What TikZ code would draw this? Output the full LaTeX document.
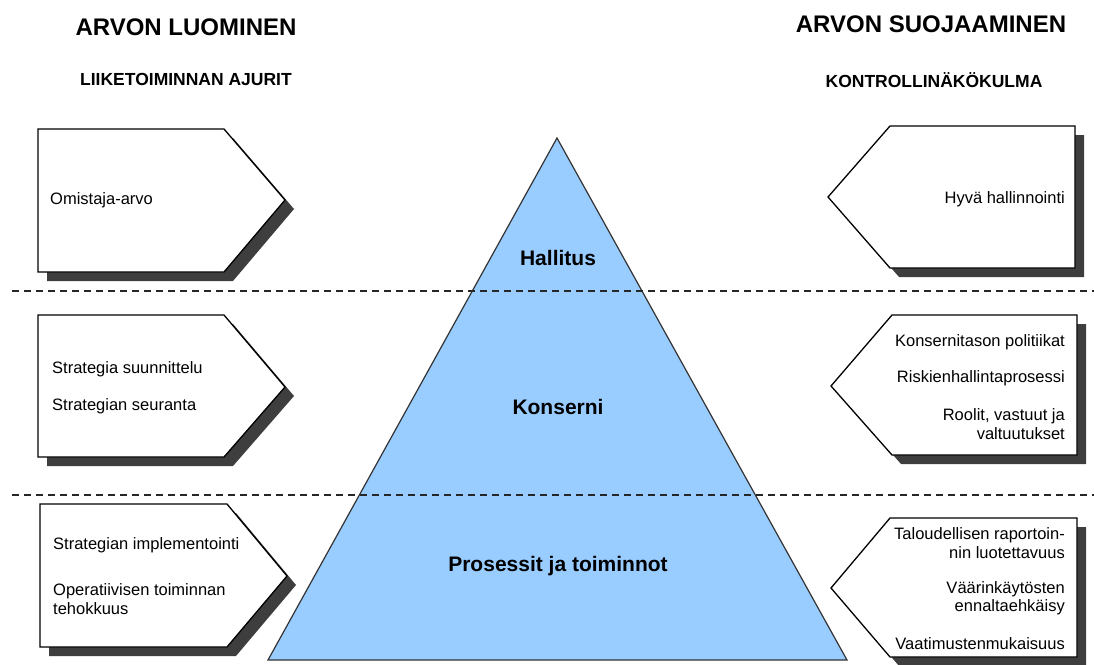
\documentclass[tikz,border=0pt]{standalone}
\usepackage{fontspec}
\setmainfont{Liberation Sans}
\usetikzlibrary{shadows}
\definecolor{pyramid}{RGB}{153,204,255}
\definecolor{shade}{RGB}{62,62,62}

\begin{document}
\begin{tikzpicture}[x=1pt,y=-1pt,
  box/.style={draw=black,line width=1.3pt,fill=white,
    drop shadow={shadow xshift=9pt,shadow yshift=-9pt,fill=shade,opacity=1}},
  sep/.style={draw=black!85,line width=2pt,dash pattern=on 7pt off 5pt},
  head/.style={font=\fontsize{24}{27}\selectfont\bfseries},
  subhead/.style={font=\fontsize{17.5}{20}\selectfont\bfseries},
  txt/.style={inner sep=0pt,font=\fontsize{16.5}{18.5}\selectfont},
  level/.style={font=\fontsize{21}{25}\selectfont\bfseries}]

  \useasboundingbox (0,0) rectangle (1094,664);

  % left boxes
  \draw[box] (38,129) -- (224,129) -- (285,200) -- (224,272) -- (38,272) -- cycle;
  \draw[box] (38,315) -- (224,315) -- (285,387) -- (224,457) -- (38,457) -- cycle;
  \draw[box] (40,504) -- (227,504) -- (287,576) -- (227,647) -- (40,647) -- cycle;

  % right boxes
  \draw[box] (1075,126) -- (890,126) -- (828,197) -- (890,268) -- (1075,268) -- cycle;
  \draw[box] (1077,315) -- (892,315) -- (831,386) -- (892,455) -- (1077,455) -- cycle;
  \draw[box] (1077,518) -- (890,518) -- (831,588) -- (890,657) -- (1077,657) -- cycle;

  % pyramid
  \draw[fill=pyramid,draw=black!80,line width=1.2pt] (557,138) -- (847,660) -- (268,660) -- cycle;

  \draw[sep] (12,291) -- (1094,291);
  \draw[sep] (12,495) -- (1094,495);

  \draw (186,27) node[head] (luominen) {ARVON LUOMINEN};
  \draw (186,79) node[subhead] (ajurit) {LIIKETOIMINNAN AJURIT};
  \draw (931,24) node[head] (suojaaminen) {ARVON SUOJAAMINEN};
  \draw (934,80) node[subhead] (kontrolli) {KONTROLLINÄKÖKULMA};

  \draw (558,258) node[level] (hallitus) {Hallitus};
  \draw (558,407) node[level] (konserni) {Konserni};
  \draw (558,566) node[level] (prosessit) {Prosessit ja toiminnot};

  \draw (50,200) node[txt,anchor=west] (omistaja) {Omistaja-arvo};
  \draw (52,369) node[txt,anchor=west] (suunnittelu) {Strategia suunnittelu};
  \draw (52,406) node[txt,anchor=west] (seuranta) {Strategian seuranta};
  \draw (53,545) node[txt,anchor=west] (implementointi) {Strategian implementointi};
  \draw (53,599) node[txt,anchor=west,align=left] (tehokkuus) {Operatiivisen toiminnan\\tehokkuus};

  \draw (1065,199) node[txt,anchor=east] (hallinnointi) {Hyvä hallinnointi};
  \draw (1065,342) node[txt,anchor=east] (politiikat) {Konsernitason politiikat};
  \draw (1065,378) node[txt,anchor=east] (riskit) {Riskienhallintaprosessi};
  \draw (1065,424) node[txt,anchor=east,align=right] (roolit) {Roolit, vastuut ja\\valtuutukset};
  \draw (1065,543) node[txt,anchor=east,align=right] (raportointi) {Taloudellisen raportoin-\\nin luotettavuus};
  \draw (1065,598) node[txt,anchor=east,align=right] (vaarinkaytokset) {Väärinkäytösten\\ennaltaehkäisy};
  \draw (1065,644) node[txt,anchor=east] (vaatimukset) {Vaatimustenmukaisuus};

\end{tikzpicture}
\end{document}
